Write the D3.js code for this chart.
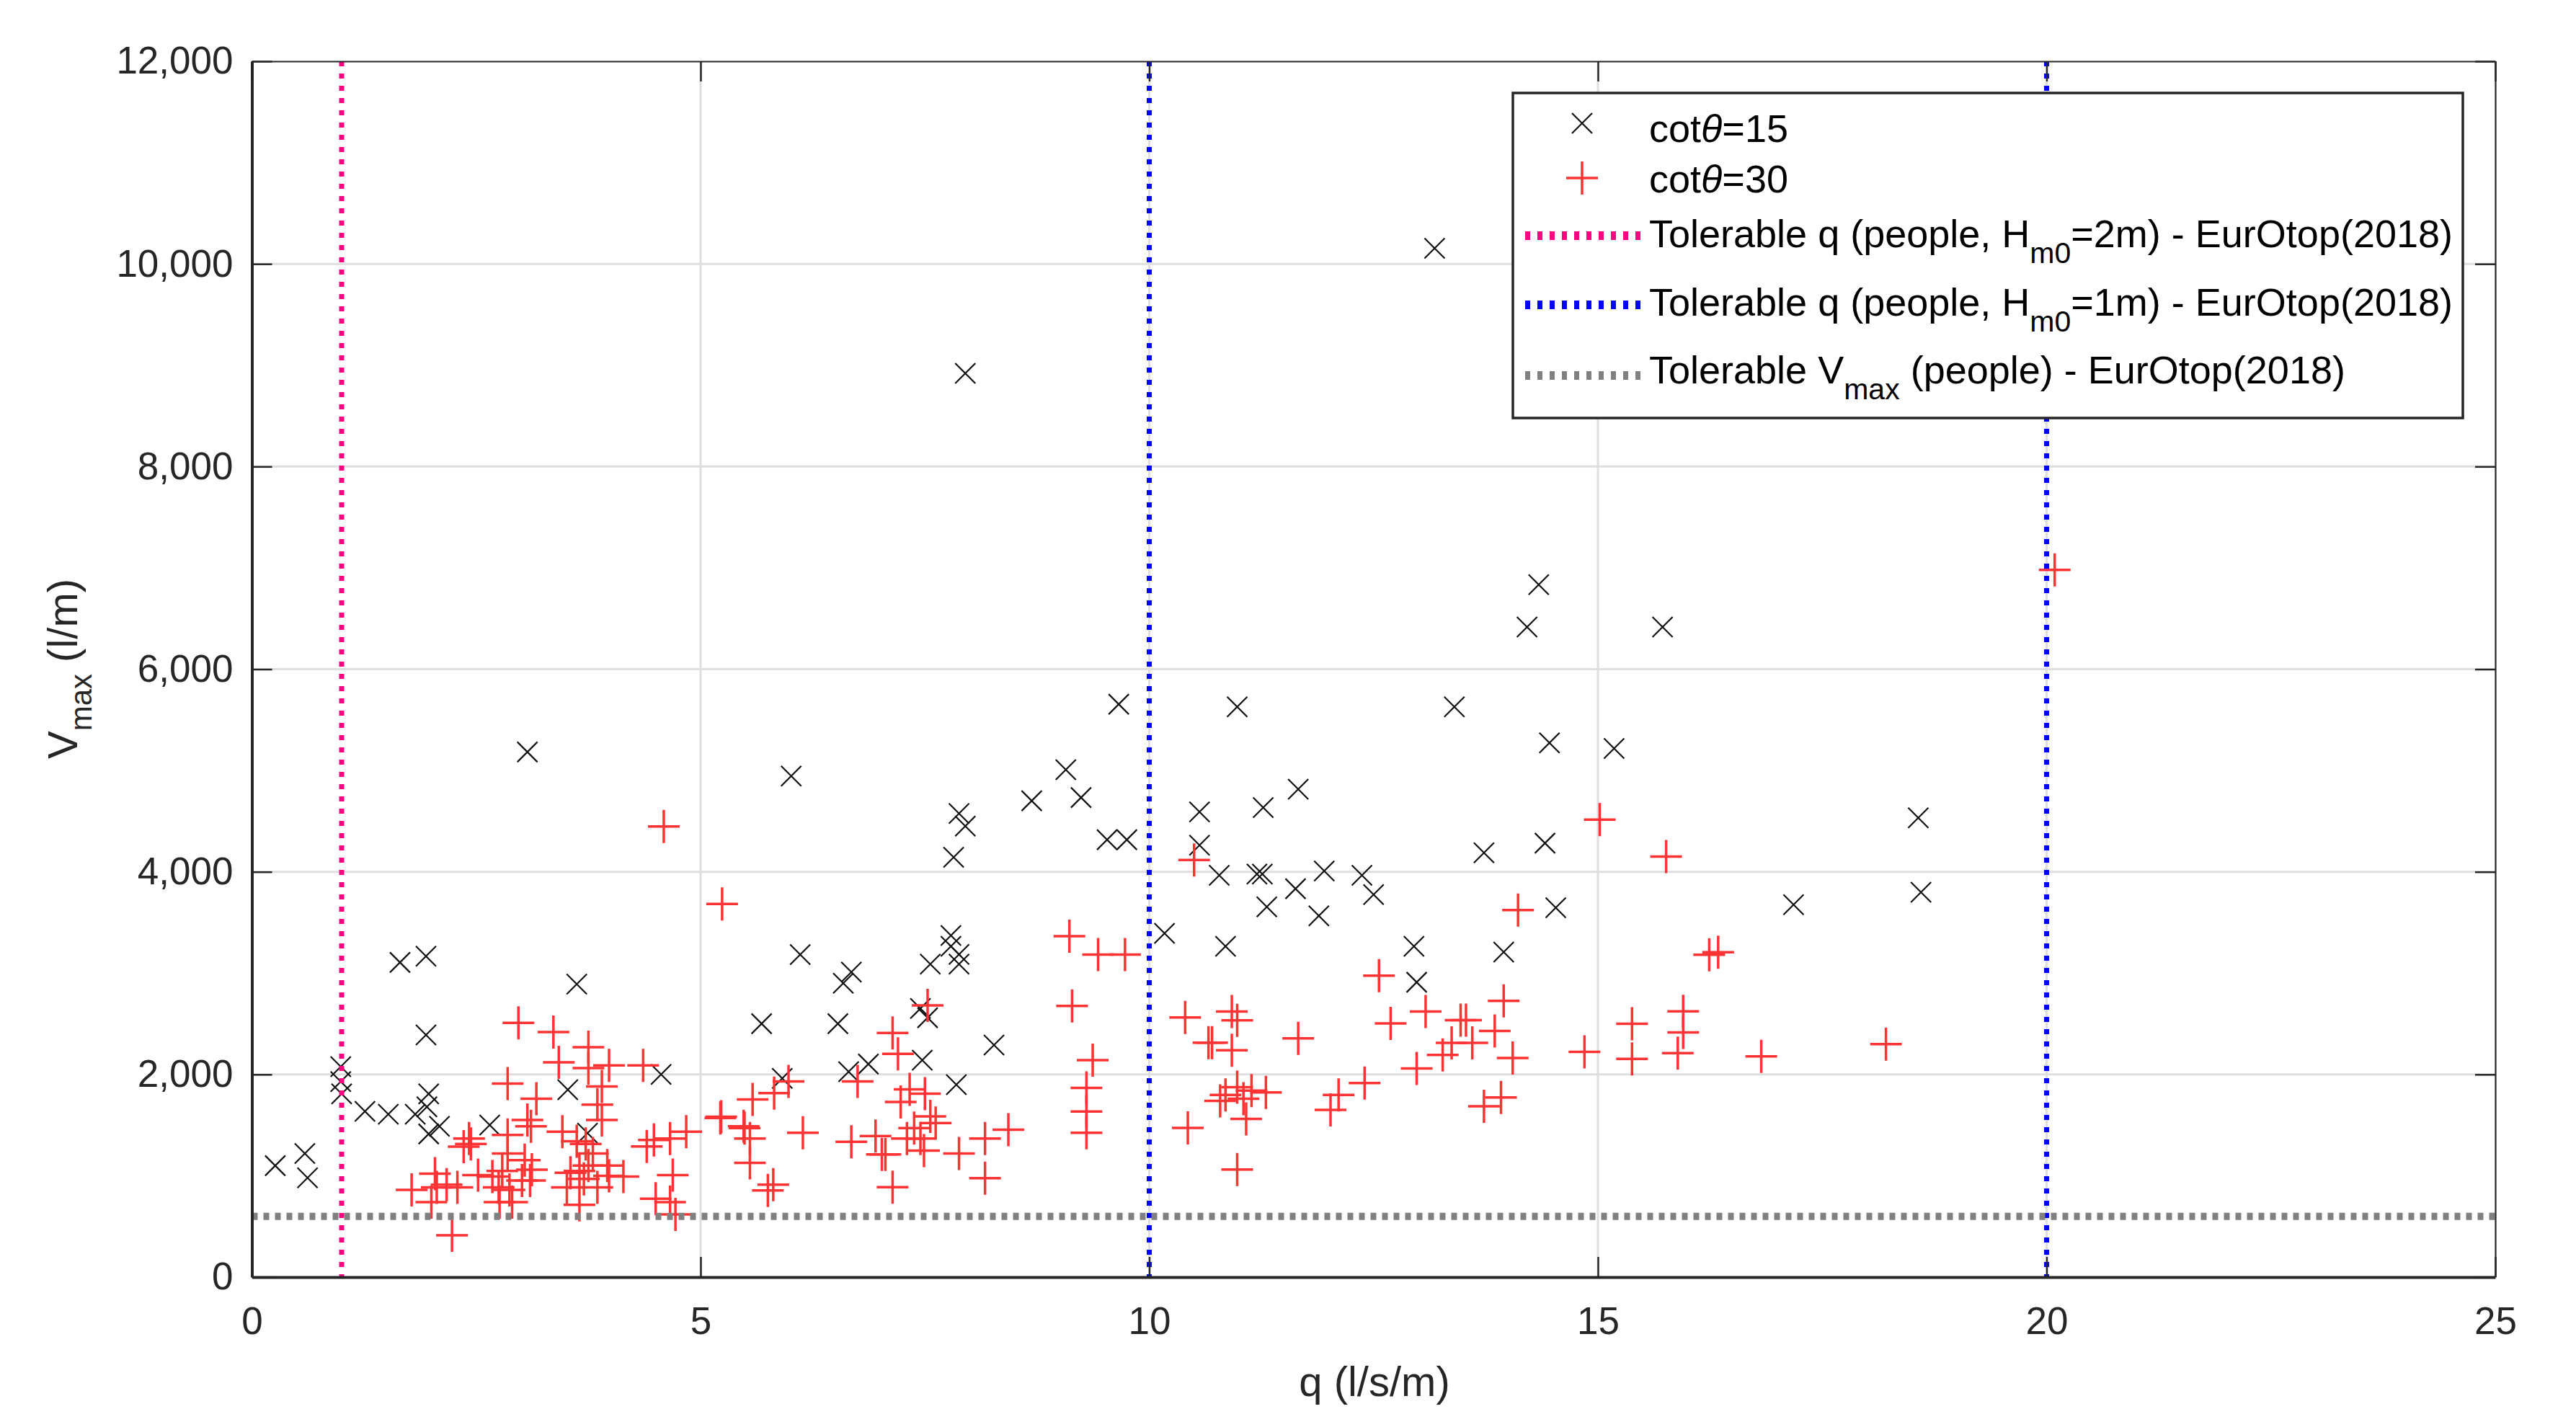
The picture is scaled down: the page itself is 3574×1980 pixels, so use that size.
<!DOCTYPE html>
<html><head><meta charset="utf-8">
<script src="https://cdn.jsdelivr.net/npm/d3@7"></script>
<style>body{margin:0;background:#fff} text{font-family:"Liberation Sans",Arial,Helvetica,sans-serif}</style>
</head><body><svg id="c" width="3574" height="1980"></svg>
<script>
// ---------------- data ----------------
const xTicks = [0, 5, 10, 15, 20, 25];
const yTicks = [0, 2000, 4000, 6000, 8000, 10000, 12000];

// cotθ=15 : [q (l/s/m), Vmax (l/m)]
const cot15 = [
 [0.26,1100],[0.59,1220],[0.62,980],[0.99,2077],[0.99,1929],[1.0,1809],[1.26,1636],[1.52,1608],
 [1.65,3106],[1.94,3167],[1.94,2390],[1.82,1608],[1.97,1809],[1.95,1680],[2.09,1488],[1.97,1413],
 [2.65,1501],[3.07,5183],[3.52,1849],[3.62,2892],[3.74,1421],[4.56,2001],
 [6.01,4945],[5.68,2501],[5.91,1962],[6.11,3183],[6.53,2501],[6.59,2901],[6.68,3011],[6.65,2027],
 [6.87,2103],[7.45,2651],[7.53,2560],[7.47,2141],[7.56,3089],[7.79,3371],[7.79,3265],[7.88,3185],
 [7.88,3089],[7.85,1899],[7.82,4144],[7.88,4576],[7.95,4451],[7.95,8920],[8.27,2290],[8.69,4701],
 [9.07,5008],[9.24,4733],[9.53,4317],[9.75,4317],[9.66,5654],[10.17,3393],[10.56,4592],[10.56,4263],
 [10.78,3966],[10.85,3265],[10.98,5629],[11.20,3978],[11.26,3978],[11.27,4634],[11.31,3654],[11.63,3833],
 [11.66,4816],[11.89,3566],[11.95,4008],[12.37,3966],[12.50,3775],[12.95,3265],[12.98,2910],[13.18,10154],
 [13.40,5629],[13.73,4188],[13.95,3208],[14.21,6416],[14.34,6834],[14.41,4283],[14.46,5273],[14.53,3646],
 [15.18,5218],[15.72,6416],[17.18,3676],[18.57,4533],[18.60,3799]
];

// cotθ=30 : [q (l/s/m), Vmax (l/m)]
const cot30 = [
 [1.78,860],[2.04,1020],[2.0,740],[2.06,886],[2.17,913],[2.29,886],[2.23,413],[2.36,1287],[2.42,1368],
 [2.44,1314],[2.52,1006],[2.68,993],[2.79,1047],[2.75,886],[2.76,740],[2.87,860],[2.90,740],[2.85,1403],
 [2.85,1220],[2.85,1910],[2.97,2509],[3.04,1154],[3.12,1060],[3.01,953],[3.10,953],[3.07,1550],[3.11,1488],
 [3.17,1761],[3.36,2418],[3.42,2119],[3.46,1435],[3.51,886],[3.55,1030],[3.62,1341],[3.65,1047],[3.65,713],
 [3.72,1314],[3.70,970],[3.75,2269],[3.75,2063],[3.75,1100],[3.80,1220],[3.85,1702],[3.85,886],[3.90,1881],
 [3.90,1550],[3.96,1100],[3.98,2090],[3.98,1000],[4.14,993],[4.36,2090],[4.40,1290],[4.48,1354],[4.50,774],
 [4.59,4447],[4.66,1368],[4.66,740],[4.69,1006],[4.72,619],[4.84,1435],
 [5.24,3682],[5.23,1582],[5.22,1571],[5.48,1488],[5.49,1471],[5.55,1367],[5.55,1127],[5.58,1753],[5.75,856],
 [5.81,913],[5.82,1815],[5.98,1931],[6.14,1424],[6.68,1336],[6.75,1931],[6.95,1393],[7.02,1211],[7.06,1211],
 [7.14,2410],[7.14,888],[7.20,2203],[7.23,1728],[7.30,1367],[7.33,1853],[7.38,1470],[7.45,1367],[7.49,1248],
 [7.50,1810],[7.53,2682],[7.56,1586],[7.62,1520],[7.88,1220],[8.17,1367],[8.17,976],[8.43,1455],
 [9.11,3364],[9.14,2676],[9.37,2141],[9.30,1868],[9.30,1634],[9.30,1424],[9.43,3183],[9.73,3183],
 [10.40,2563],[10.43,1472],[10.50,4116],[10.66,2314],[10.70,2314],[10.79,1740],[10.85,1797],[10.92,2622],
 [10.98,2534],[10.92,2238],[10.98,1875],[10.98,1062],[11.05,1760],[11.08,1562],[11.14,1840],[11.30,1823],
 [11.66,2356],[12.02,1650],[12.11,1797],[12.40,1916],[12.56,2975],[12.69,2504],[12.98,2060],[13.08,2622],
 [13.27,2193],[13.37,2311],[13.47,2536],[13.53,2536],[13.60,2311],[13.73,1686],[13.85,2430],[13.92,1773],
 [13.95,2727],[14.05,2162],[14.11,3623],[14.85,2223],[15.02,4516],[15.38,2501],[15.38,2154],[15.76,4150],
 [15.89,2210],[15.95,2623],[15.95,2415],[16.24,3182],[16.34,3207],[16.82,2178],[18.21,2300],[20.09,6980]
];

const qTol2m = [1];        // pink dotted
const qTol1m = [10, 20];   // blue dotted
const vTol = [600];        // gray dotted

// ---------------- layout ----------------
const W = 3574, H = 1980, L = 349.5, R = 3462, T = 85, B = 1772;
const x = d3.scaleLinear().domain([0, 25]).range([L, R]);
const y = d3.scaleLinear().domain([0, 12000]).range([B, T]);
const svg = d3.select('#c');
const axisColor = '#262626';
svg.append('rect').attr('width', W).attr('height', H).attr('fill', '#fff');

// grid
const grid = svg.append('g').attr('stroke', '#dedede').attr('stroke-width', 3);
grid.selectAll('line.gx').data(xTicks.filter(d => d > 0 && d < 25)).join('line')
  .attr('x1', d => x(d)).attr('x2', d => x(d)).attr('y1', T).attr('y2', B);
grid.selectAll('line.gy').data(yTicks.filter(d => d > 0 && d < 12000)).join('line')
  .attr('y1', d => y(d)).attr('y2', d => y(d)).attr('x1', L).attr('x2', R);

// markers
const xPath = 'M-14,-14L14,14M-14,14L14,-14';
const plusPath = 'M-22,0H22M0,-23V23';
svg.append('g').selectAll('path').data(cot15).join('path')
  .attr('d', xPath).attr('transform', d => `translate(${x(d[0])},${y(d[1])})`)
  .attr('stroke', '#111').attr('stroke-width', 2.2).attr('fill', 'none');
svg.append('g').selectAll('path').data(cot30).join('path')
  .attr('d', plusPath).attr('transform', d => `translate(${x(d[0])},${y(d[1])})`)
  .attr('stroke', '#ff3333').attr('stroke-width', 3.5).attr('fill', 'none');

// threshold lines
const lines = svg.append('g').attr('fill', 'none');
lines.selectAll('line.p').data(qTol2m).join('line')
  .attr('x1', d => x(d)).attr('x2', d => x(d)).attr('y1', T).attr('y2', B)
  .attr('stroke', '#ff0080').attr('stroke-width', 7).attr('stroke-dasharray', '7,10');
lines.selectAll('line.b').data(qTol1m).join('line')
  .attr('x1', d => x(d)).attr('x2', d => x(d)).attr('y1', T).attr('y2', B)
  .attr('stroke', '#0000ff').attr('stroke-width', 7).attr('stroke-dasharray', '7,10');
lines.selectAll('line.g').data(vTol).join('line')
  .attr('y1', d => y(d)).attr('y2', d => y(d)).attr('x1', L).attr('x2', R)
  .attr('stroke', '#808080').attr('stroke-width', 10).attr('stroke-dasharray', '8,8');

// axes
const fmt = d3.format(',');
const tickFont = 53;
const gx = svg.append('g').attr('transform', `translate(0,${B})`)
  .call(d3.axisBottom(x).tickValues(xTicks).tickFormat(d3.format('d')).tickSize(-28).tickSizeOuter(0).tickPadding(41));
const gy = svg.append('g').attr('transform', `translate(${L},0)`)
  .call(d3.axisLeft(y).tickValues(yTicks).tickFormat(fmt).tickSize(-28).tickSizeOuter(0).tickPadding(26));
const gt = svg.append('g').attr('transform', `translate(0,${T})`)
  .call(d3.axisTop(x).tickValues(xTicks).tickFormat('').tickSize(-28).tickSizeOuter(0));
const gr = svg.append('g').attr('transform', `translate(${R},0)`)
  .call(d3.axisRight(y).tickValues(yTicks).tickFormat('').tickSize(-28).tickSizeOuter(0));
[gx, gy, gt, gr].forEach(g => {
  g.selectAll('.tick line').attr('stroke', axisColor).attr('stroke-width', 2.5);
  g.selectAll('text').attr('fill', axisColor).style('font-size', tickFont + 'px')
    .style('font-family', '"Liberation Sans",Arial,sans-serif');
});
gx.select('.domain').attr('stroke', axisColor).attr('stroke-width', 4);
gy.select('.domain').attr('stroke', axisColor).attr('stroke-width', 4);
gt.select('.domain').attr('stroke', axisColor).attr('stroke-width', 2.2);
gr.select('.domain').attr('stroke', axisColor).attr('stroke-width', 2.2);
[gt, gr].forEach(g => g.selectAll('.tick text').remove());

// axis labels
svg.append('text').attr('x', 1907).attr('y', 1937).attr('text-anchor', 'middle')
  .attr('fill', axisColor).style('font-size', '58px').text('q (l/s/m)');
const yl = svg.append('text').attr('transform', 'translate(107,928) rotate(-90)')
  .attr('text-anchor', 'middle').attr('fill', axisColor).style('font-size', '58px');
yl.append('tspan').text('V');
yl.append('tspan').attr('dy', 20).style('font-size', '42px').text('max');
yl.append('tspan').attr('dy', -20).text(' (l/m)');

// legend
const lg = svg.append('g');
lg.append('rect').attr('x', 2099).attr('y', 129).attr('width', 1318).attr('height', 451)
  .attr('fill', '#fff').attr('stroke', axisColor).attr('stroke-width', 3.5);
const lx0 = 2116, lx1 = 2278, tx = 2288, lfs = 54;
lg.append('path').attr('d', xPath).attr('transform', 'translate(2195,171)')
  .attr('stroke', '#111').attr('stroke-width', 2.2).attr('fill', 'none');
lg.append('path').attr('d', plusPath).attr('transform', 'translate(2195,247)')
  .attr('stroke', '#ff3333').attr('stroke-width', 3.5).attr('fill', 'none');
const legLines = [
  {y: 327, c: '#ff0080'}, {y: 423, c: '#0000ff'}, {y: 521, c: '#808080'}
];
lg.selectAll('line.l').data(legLines).join('line')
  .attr('x1', lx0).attr('x2', lx1).attr('y1', d => d.y).attr('y2', d => d.y)
  .attr('stroke', d => d.c).attr('stroke-width', 12).attr('stroke-dasharray', '7,10');

function legText(yb, parts) {
  const t = lg.append('text').attr('x', tx).attr('y', yb).attr('fill', '#000').style('font-size', lfs + 'px');
  parts.forEach(p => {
    const s = t.append('tspan').text(p.t);
    if (p.sub) s.attr('dy', 22).style('font-size', '41px');
    if (p.back) s.attr('dy', -22);
    if (p.i) s.style('font-style', 'italic');
  });
}
legText(197, [{t: 'cot'}, {t: 'θ', i: true}, {t: '=15'}]);
legText(267, [{t: 'cot'}, {t: 'θ', i: true}, {t: '=30'}]);
legText(343, [{t: 'Tolerable q (people, H'}, {t: 'm0', sub: true}, {t: '=2m) - EurOtop(2018)', back: true}]);
legText(438, [{t: 'Tolerable q (people, H'}, {t: 'm0', sub: true}, {t: '=1m) - EurOtop(2018)', back: true}]);
legText(532, [{t: 'Tolerable V'}, {t: 'max', sub: true}, {t: ' (people) - EurOtop(2018)', back: true}]);
</script></body></html>
